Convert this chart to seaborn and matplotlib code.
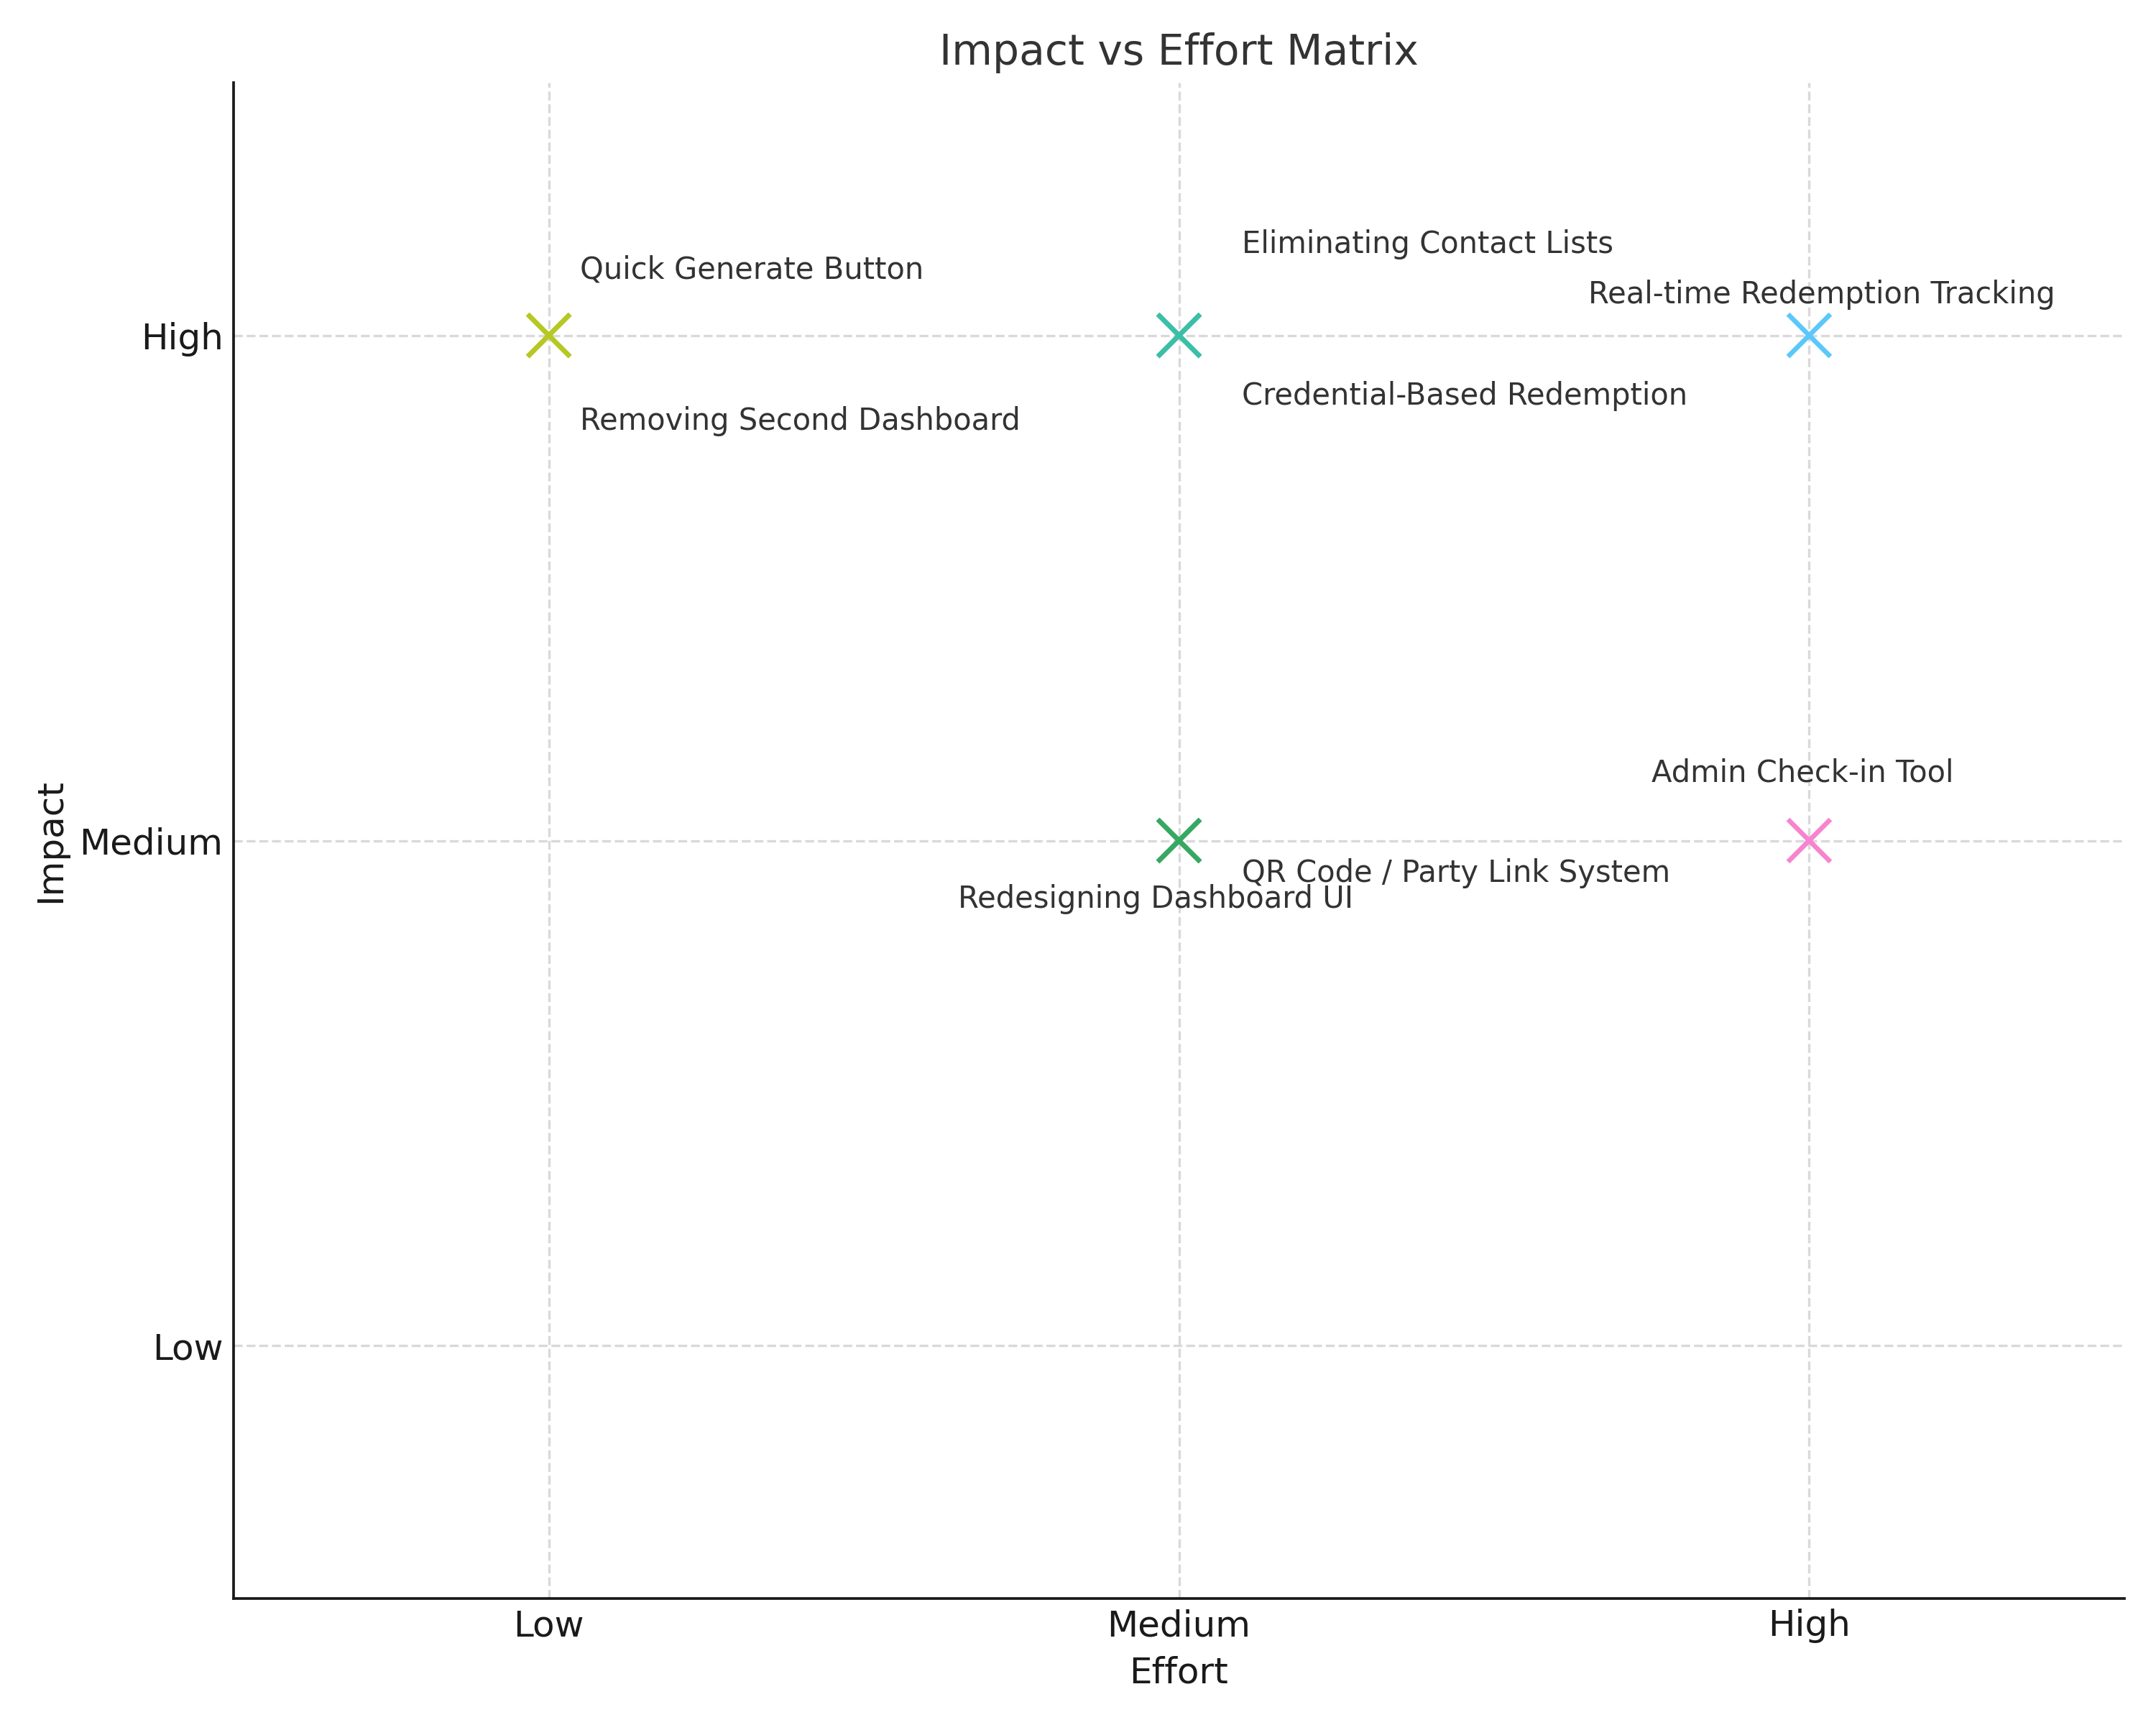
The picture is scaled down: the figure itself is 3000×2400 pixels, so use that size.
import pandas as pd
import matplotlib
matplotlib.use("Agg")
import matplotlib.pyplot as plt
import seaborn as sns

# Dados do gráfico
niveis = ["Low", "Medium", "High"]
funcionalidades = [
    "Removing Second Dashboard",
    "Quick Generate Button",
    "Credential-Based Redemption",
    "Eliminating Contact Lists",
    "QR Code / Party Link System",
    "Redesigning Dashboard UI",
    "Real-time Redemption Tracking",
    "Admin Check-in Tool",
]
esforco = ["Low", "Low", "Medium", "Medium", "Medium", "Medium", "High", "High"]
impacto = ["High", "High", "High", "High", "Medium", "Medium", "High", "Medium"]

cores = ["#b5c824", "#b5c824", "#3bbfa6", "#3bbfa6",
         "#36a862", "#36a862", "#5ac8fa", "#f784d0"]

# Deslocamento dos rótulos (dx, dy, alinhamento)
deslocamentos = [
    (0.05, -0.17, "left"),
    (0.05, 0.13, "left"),
    (0.10, -0.12, "left"),
    (0.10, 0.18, "left"),
    (0.10, -0.065, "left"),
    (-0.037, -0.116, "center"),
    (0.02, 0.08, "center"),
    (-0.011, 0.134, "center"),
]

df = pd.DataFrame({
    "Funcionalidade": funcionalidades,
    "Effort": pd.Categorical(esforco, categories=niveis).codes,
    "Impact": pd.Categorical(impacto, categories=niveis).codes,
})

sns.set_style("white")
plt.rcParams["font.family"] = ["DejaVu Sans"]

fig, ax = plt.subplots(figsize=(10, 8))

ax.grid(True, linestyle="--", color="#d9d9d9", linewidth=0.8, zorder=0)
ax.set_axisbelow(True)

sns.scatterplot(
    data=df,
    x="Effort",
    y="Impact",
    hue="Funcionalidade",
    palette=cores,
    marker="x",
    s=200,
    linewidth=1.6,
    legend=False,
    ax=ax,
    zorder=3,
)

# Rótulos de cada ponto
for (_, linha), (dx, dy, ha) in zip(df.iterrows(), deslocamentos):
    ax.text(linha["Effort"] + dx, linha["Impact"] + dy, linha["Funcionalidade"],
            fontsize=10, color="#333333", ha=ha, va="center")

ax.set_xticks(range(len(niveis)))
ax.set_xticklabels(niveis)
ax.set_yticks(range(len(niveis)))
ax.set_yticklabels(niveis)
ax.set_xlim(-0.5, 2.5)
ax.set_ylim(-0.5, 2.5)
ax.tick_params(axis="both", direction="in", length=3.5, labelsize=12, colors="#1a1a1a")

ax.set_title("Impact vs Effort Matrix", fontsize=14, color="#333333")
ax.set_xlabel("Effort", fontsize=12, color="#1a1a1a")
ax.set_ylabel("Impact", fontsize=12, color="#1a1a1a")

for lado in ["left", "bottom"]:
    ax.spines[lado].set_color("#1a1a1a")
    ax.spines[lado].set_linewidth(0.9)
sns.despine(ax=ax)

plt.subplots_adjust(left=0.1084, right=0.9853, top=0.952, bottom=0.0734)
plt.savefig("out.png", dpi=300)
